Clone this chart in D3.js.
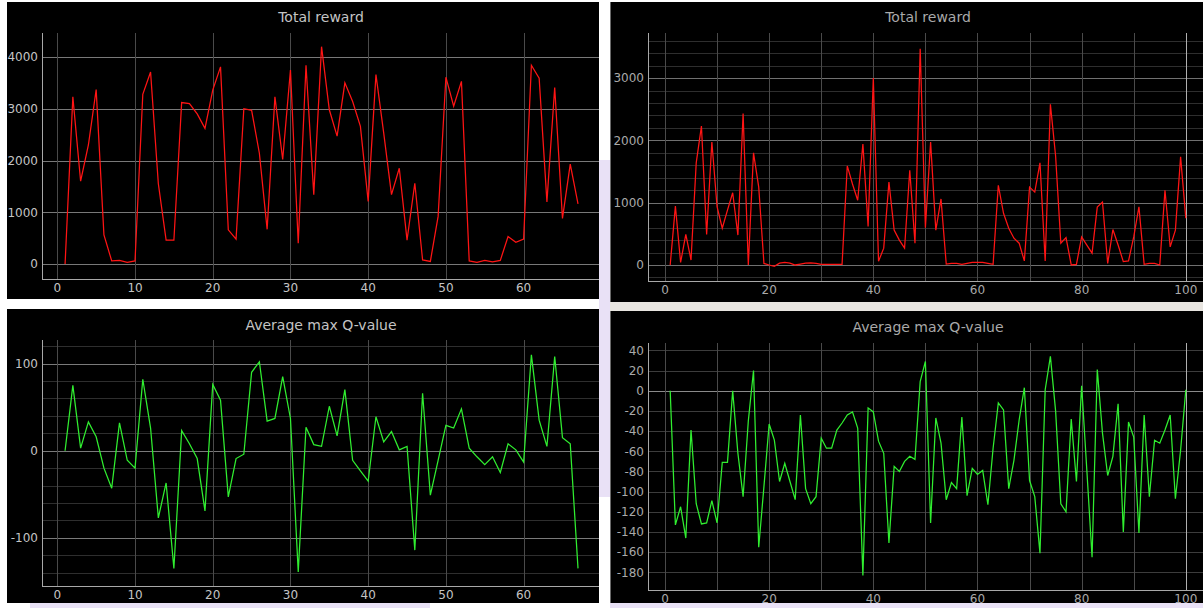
<!DOCTYPE html>
<html>
<head>
<meta charset="utf-8">
<script src="https://cdn.jsdelivr.net/npm/d3@7/dist/d3.min.js"></script>
<style>
  body { margin: 0; background: #fff; }
  svg { display: block; font-family: "DejaVu Sans", sans-serif; }
</style>
</head>
<body>
<svg id="chart" width="1203" height="608"></svg>
<script>
// ---- data ----
// left run: 67 episodes
var rewardA = [0,3230,1600,2300,3370,560,60,70,30,60,
  3280,3710,1550,460,460,3120,3100,2900,2620,3360,
  3810,660,480,3000,2970,2140,670,3230,2020,3750,
  400,3840,1340,4200,2980,2470,3500,3140,2660,1210,
  3660,2530,1340,1850,460,1560,80,50,920,3610,
  3050,3530,60,30,70,40,70,530,420,480,
  3840,3590,1200,3410,880,1930,1160];

var qA = [0,75,3,33,16,-20,-43,32,-11,-20,
  82,26,-77,-37,-135,23,8,-9,-69,76,
  58,-53,-9,-4,90,102,34,37,85,37,
  -139,27,7,5,51,17,70,-11,-23,-35,
  39,10,22,1,5,-114,66,-51,-11,29,
  26,48,3,-7,-16,-7,-25,8,1,-13,
  110,35,5,108,15,8,-135];

// right run: 100 episodes
var rewardB = [0,945,40,490,80,1640,2230,490,1975,935,
  590,880,1160,480,2430,0,1800,1250,25,0,
  -20,30,40,30,0,15,30,35,25,10,
  10,10,10,10,1590,1300,1040,1940,620,3000,
  60,270,1330,560,400,270,1520,350,3470,600,
  1975,560,1060,15,25,25,10,25,40,40,
  40,25,10,1280,830,590,430,350,65,1250,
  1170,1640,65,2580,1750,350,440,0,10,450,
  320,190,930,1010,25,570,320,55,65,450,
  935,10,25,25,0,1200,290,560,1735,750];

var qB = [0,-133,-115,-146,-39,-112,-132,-131,-109,-131,
  -71,-71,0,-62,-105,-30,20,-155,-95,-33,
  -49,-90,-72,-90,-108,-24,-97,-112,-105,-47,
  -57,-57,-39,-32,-24,-21,-37,-183,-17,-21,
  -50,-62,-151,-75,-80,-70,-65,-68,9,29,
  -131,-27,-52,-108,-91,-97,-26,-104,-77,-83,
  -79,-113,-57,-12,-19,-97,-69,-29,3,-89,
  -105,-161,1,34,-20,-112,-120,-28,-90,5,
  -79,-165,21,-42,-84,-65,-13,-140,-31,-46,
  -141,-24,-105,-49,-52,-39,-24,-107,-59,1];

// tick values
var xTicksA = [0,10,20,30,40,50,60];
var xTicksB = [0,20,40,60,80,100];
var xGridB = [0,10,20,30,40,50,60,70,80,90,100];
var rewardTicksA = [0,1000,2000,3000,4000];
var rewardTicksB = [0,1000,2000,3000];
var rewardMinorB = [-200,200,400,600,800,1200,1400,1600,1800,2200,2400,2600,2800,3200,3400,3600];
var qTicksA = [-100,0,100];
var qMinorA = [-140,-120,-80,-60,-40,-20,20,40,60,80,120];
var qTicksB = [40,20,0,-20,-40,-60,-80,-100,-120,-140,-160,-180];

var svg = d3.select("#chart");

// desktop bits showing between the windows
svg.append("rect").attr("x", 599).attr("y", 160).attr("width", 11).attr("height", 337).attr("fill", "#e9e1f6");
svg.append("rect").attr("x", 610).attr("y", 302).attr("width", 593).attr("height", 9).attr("fill", "#e8e5e0");
svg.append("rect").attr("x", 30).attr("y", 603).attr("width", 400).attr("height", 5).attr("fill", "#e9e1f6");
svg.append("rect").attr("x", 610).attr("y", 603).attr("width", 593).attr("height", 5).attr("fill", "#e9e1f6");

var clipId = 0;

function drawPanel(p) {
  var g = svg.append("g");
  var l = p.plot[0], t = p.plot[1], r = p.plot[2], b = p.plot[3];

  g.append("rect")
    .attr("x", p.box[0]).attr("y", p.box[1])
    .attr("width", p.box[2] - p.box[0]).attr("height", p.box[3] - p.box[1])
    .attr("fill", "#000");
  if (p.edge) {
    // thin window frame on the left
    g.append("line").attr("x1", p.box[0] + 0.5).attr("x2", p.box[0] + 0.5)
      .attr("y1", p.box[1]).attr("y2", p.box[3]).attr("stroke", "#6a6a6a");
  }

  var x = d3.scaleLinear().domain(p.xDom).range([l, r]);
  var y = d3.scaleLinear().domain(p.yDom).range([b, t]);

  // grid
  function hlines(vals, col) {
    g.selectAll(null).data(vals).enter().append("line")
      .attr("x1", l).attr("x2", r)
      .attr("y1", function(d){ return Math.round(y(d)) + 0.5; })
      .attr("y2", function(d){ return Math.round(y(d)) + 0.5; })
      .attr("stroke", col).attr("stroke-width", 1);
  }
  function vlines(vals, col) {
    g.selectAll(null).data(vals).enter().append("line")
      .attr("y1", t).attr("y2", b)
      .attr("x1", function(d){ return Math.round(x(d)) + 0.5; })
      .attr("x2", function(d){ return Math.round(x(d)) + 0.5; })
      .attr("stroke", col).attr("stroke-width", 1);
  }
  if (p.yMinor) hlines(p.yMinor, "#2e2e2e");
  hlines(p.yGrid, p.yGridColor || "#6e6e6e");
  if (p.yBright) hlines(p.yBright, "#8a8a8a");
  vlines(p.xGrid, "#4a4a4a");
  if (p.xBright) vlines(p.xBright, "#b0b0b0");

  // axis lines
  g.append("line").attr("x1", l + 0.5).attr("x2", l + 0.5).attr("y1", t).attr("y2", b)
    .attr("stroke", "#a8a8a8");
  g.append("line").attr("x1", l).attr("x2", r).attr("y1", b + 0.5).attr("y2", b + 0.5)
    .attr("stroke", "#a8a8a8");

  // series
  clipId++;
  g.append("clipPath").attr("id", "clip" + clipId).append("rect")
    .attr("x", l).attr("y", t).attr("width", r - l).attr("height", b - t);
  var line = d3.line()
    .x(function(d, i){ return x(i + 1); })
    .y(function(d){ return y(d); });
  g.append("path").datum(p.values)
    .attr("clip-path", "url(#clip" + clipId + ")")
    .attr("d", line)
    .attr("fill", "none")
    .attr("stroke", p.color)
    .attr("stroke-width", 1.25)
    .attr("stroke-linejoin", "miter");

  // tick labels
  g.selectAll(null).data(p.yTicks).enter().append("text")
    .attr("x", l - 4).attr("y", function(d){ return y(d); })
    .attr("dy", "0.36em")
    .attr("text-anchor", "end")
    .attr("font-size", 12)
    .attr("fill", p.textColor)
    .text(function(d){ return d; });
  g.selectAll(null).data(p.xTicks).enter().append("text")
    .attr("x", function(d){ return x(d); }).attr("y", b + 9)
    .attr("dy", "0.36em")
    .attr("text-anchor", "middle")
    .attr("font-size", 12)
    .attr("fill", p.textColor)
    .text(function(d){ return d; });

  g.append("text")
    .attr("x", p.titleX).attr("y", p.titleY)
    .attr("dy", "0.36em")
    .attr("text-anchor", "middle")
    .attr("font-size", 14)
    .attr("fill", p.textColor)
    .text(p.title);
}

// top left
drawPanel({
  box: [7, 2, 599, 299], plot: [42, 33, 599, 279],
  xDom: [-1.97, 69.7], yDom: [-290, 4464],
  xTicks: xTicksA, xGrid: xTicksA,
  yTicks: rewardTicksA, yGrid: rewardTicksA, yGridColor: "#787878",
  values: rewardA, color: "#ff1414", textColor: "#c4c4c4",
  title: "Total reward", titleX: 321, titleY: 17
});

// top right
drawPanel({
  box: [610, 2, 1203, 302], plot: [648, 33, 1203, 281], edge: true,
  xDom: [-3.26, 103.3], yDom: [-257, 3724],
  xTicks: xTicksB, xGrid: xGridB, xBright: [100],
  yTicks: rewardTicksB, yGrid: rewardTicksB, yMinor: rewardMinorB, yGridColor: "#707070",
  values: rewardB, color: "#ff1414", textColor: "#a9a9a9",
  title: "Total reward", titleX: 928, titleY: 17
});

// bottom left
drawPanel({
  box: [7, 309, 599, 603], plot: [42, 340, 599, 586],
  xDom: [-1.97, 69.7], yDom: [-155.2, 127],
  xTicks: xTicksA, xGrid: xTicksA,
  yTicks: qTicksA, yGrid: qTicksA, yMinor: qMinorA, yGridColor: "#7a7a7a",
  values: qA, color: "#30ee30", textColor: "#c4c4c4",
  title: "Average max Q-value", titleX: 321, titleY: 325
});

// bottom right
drawPanel({
  box: [610, 311, 1203, 603], plot: [648, 343, 1203, 590], edge: true,
  xDom: [-3.26, 103.3], yDom: [-197.5, 47.3],
  xTicks: xTicksB, xGrid: xGridB, xBright: [100],
  yTicks: qTicksB, yGrid: qTicksB, yGridColor: "#3c3c3c", yBright: [0],
  values: qB, color: "#30ee30", textColor: "#a9a9a9",
  title: "Average max Q-value", titleX: 928, titleY: 327
});
</script>
</body>
</html>
